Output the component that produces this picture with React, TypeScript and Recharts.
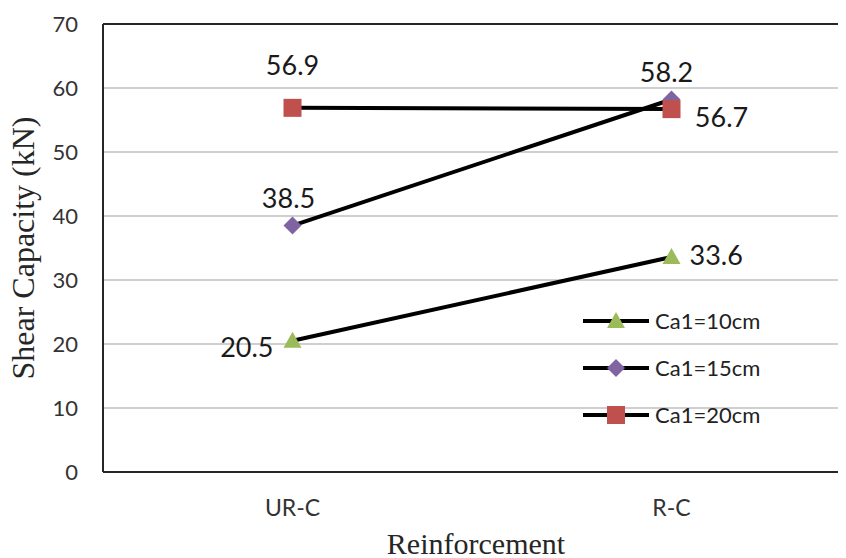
import React from "react";
import { LineChart, Line, XAxis, YAxis, CartesianGrid, Legend, LabelList, ReferenceLine } from "recharts";

const categories = ["UR-C", "R-C"];
const ca10 = [20.5, 33.6];
const ca15 = [38.5, 58.2];
const ca20 = [56.9, 56.7];
const seriesNames = ["Ca1=10cm", "Ca1=15cm", "Ca1=20cm"];
const yTicks = [0, 10, 20, 30, 40, 50, 60, 70];
const xTitle = "Reinforcement";
const yTitle = "Shear Capacity (kN)";

const data = categories.map((c, i) => ({ cat: c, ca10: ca10[i], ca15: ca15[i], ca20: ca20[i] }));

const NUM_FONT = "Lato, 'Open Sans', sans-serif";
const SERIF = "'Liberation Serif', 'Times New Roman', serif";

const COLORS = { ca10: "#9BBB59", ca15: "#8064A2", ca20: "#C0504D" };

function Marker({ kind, cx, cy }: { kind: string; cx: number; cy: number }) {
  if (kind === "tri") {
    return <polygon points={`${cx},${cy - 9} ${cx + 9},${cy + 7} ${cx - 9},${cy + 7}`} fill={COLORS.ca10} />;
  }
  if (kind === "dia") {
    return <polygon points={`${cx},${cy - 9} ${cx + 9},${cy} ${cx},${cy + 9} ${cx - 9},${cy}`} fill={COLORS.ca15} />;
  }
  return <rect x={cx - 9} y={cy - 9} width={18} height={18} fill={COLORS.ca20} />;
}

const dotFor = (kind: string) => (props: any) => {
  const { cx, cy, index } = props;
  if (cx == null || cy == null) return <g key={index} />;
  return <Marker key={`${kind}-${index}`} kind={kind} cx={cx} cy={cy} />;
};

// label placement per series / point: [dx, dy, anchor]
const labelPlace: Record<string, [number, number, string][]> = {
  ca10: [[-19, 16, "end"], [18, 8, "start"]],
  ca15: [[-4, -18, "middle"], [-5, -18, "middle"]],
  ca20: [[0, -33, "middle"], [50, 18, "middle"]],
};

const labelFor = (key: string) => (props: any) => {
  const { x, y, value, index } = props;
  const p = labelPlace[key][index] || [0, -15, "middle"];
  return (
    <text
      key={`${key}-l-${index}`}
      x={x + p[0]}
      y={y + p[1]}
      textAnchor={p[2] as any}
      fontFamily={NUM_FONT}
      fontSize={27}
      fill="#1a1a1a"
    >
      {value}
    </text>
  );
};

const kinds: Record<string, string> = { "Ca1=10cm": "tri", "Ca1=15cm": "dia", "Ca1=20cm": "sq" };

function LegendContent(props: any) {
  const { payload } = props;
  return (
    <div>
      {(payload || []).map((entry: any, i: number) => (
        <div key={i} style={{ display: "flex", alignItems: "center", height: 47 }}>
          <svg width={72} height={20} style={{ display: "block" }}>
            <line x1={0} y1={10} x2={66} y2={10} stroke="#000" strokeWidth={4} />
            <Marker kind={kinds[entry.value]} cx={33} cy={10} />
          </svg>
          <span style={{ fontFamily: NUM_FONT, fontSize: 22, color: "#222", lineHeight: "20px" }}>{entry.value}</span>
        </div>
      ))}
    </div>
  );
}

export default function App() {
  return (
    <div style={{ marginLeft: -8, marginTop: -8, width: 846, height: 558, background: "#fff", overflow: "hidden" }}>
      <LineChart
        width={846}
        height={558}
        data={data}
        margin={{ top: 24, right: -15, bottom: 0, left: -1 }}
      >
        <CartesianGrid vertical={false} stroke="#bfbfbf" strokeWidth={1.5} />
        <XAxis
          dataKey="cat"
          scale="band"
          height={86}
          tickSize={0}
          tickMargin={28}
          axisLine={{ stroke: "#262626", strokeWidth: 2 }}
          tick={{ fontFamily: NUM_FONT, fontSize: 23, fill: "#333" }}
          label={{
            content: (p: any) => {
              const vb = p.viewBox;
              return (
                <text x={vb.x + vb.width / 2 - 6} y={vb.y + 82} textAnchor="middle" fontFamily={SERIF} fontSize={30} fill="#262626">
                  {xTitle}
                </text>
              );
            },
          }}
        />
        <YAxis
          width={104}
          domain={[0, 70]}
          ticks={yTicks}
          tickSize={0}
          tickMargin={25}
          axisLine={{ stroke: "#262626", strokeWidth: 2 }}
          tick={{ fontFamily: NUM_FONT, fontSize: 22, fill: "#333" }}
          label={{
            content: (p: any) => {
              const vb = p.viewBox;
              const cx = vb.x + 35;
              const cy = vb.y + vb.height / 2;
              return (
                <text x={cx} y={cy} transform={`rotate(-90 ${cx} ${cy})`} textAnchor="middle" fontFamily={SERIF} fontSize={32} fill="#262626">
                  {yTitle}
                </text>
              );
            },
          }}
        />
        <ReferenceLine y={70} stroke="#262626" strokeWidth={2} />
        <Legend
          layout="horizontal"
          verticalAlign="middle"
          align="center"
          content={<LegendContent />}
          wrapperStyle={{ position: "absolute", left: 583, top: 297, width: 240, height: 150 }}
        />
        <Line
          name={seriesNames[0]}
          dataKey="ca10"
          stroke="#000"
          strokeWidth={4}
          dot={dotFor("tri")}
          activeDot={false}
          isAnimationActive={false}
        >
          <LabelList dataKey="ca10" content={labelFor("ca10")} />
        </Line>
        <Line
          name={seriesNames[1]}
          dataKey="ca15"
          stroke="#000"
          strokeWidth={4}
          dot={dotFor("dia")}
          activeDot={false}
          isAnimationActive={false}
        >
          <LabelList dataKey="ca15" content={labelFor("ca15")} />
        </Line>
        <Line
          name={seriesNames[2]}
          dataKey="ca20"
          stroke="#000"
          strokeWidth={4}
          dot={dotFor("sq")}
          activeDot={false}
          isAnimationActive={false}
        >
          <LabelList dataKey="ca20" content={labelFor("ca20")} />
        </Line>
      </LineChart>
    </div>
  );
}
